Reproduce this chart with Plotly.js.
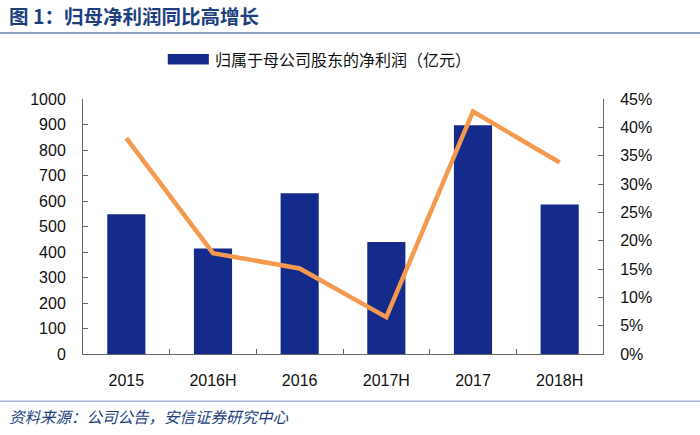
<!DOCTYPE html>
<html><head><meta charset="utf-8">
<script src="https://cdn.plot.ly/plotly-3.0.1.min.js"></script>
<style>html,body{margin:0;padding:0;background:#fff}#c{width:700px;height:435px}</style>
</head><body><div id="c"></div>
<script>
const categories = ['2015','2016H','2016','2017H','2017','2018H'];
const profit = [548, 414, 630, 439, 897, 586];
const growth = [0.381, 0.178, 0.151, 0.065, 0.428, 0.338];
const leftTicks = [0,100,200,300,400,500,600,700,800,900,1000];
const rightTicks = [0,0.05,0.10,0.15,0.20,0.25,0.30,0.35,0.40,0.45];
const seriesName = '归属于母公司股东的净利润（亿元）';
const titleText = '图 1：归母净利润同比高增长';
const sourceText = '资料来源：公司公告，安信证券研究中心';

const num = 'Liberation Sans, Arial, sans-serif';
const cjk = 'Noto Sans CJK SC, sans-serif';
const tf = {family:num, size:16, color:'#111'};

const traces = [
  {type:'bar', x:categories, y:profit, name:seriesName, marker:{color:'#142b8c'}, showlegend:false},
  {type:'scatter', mode:'lines', x:categories, y:growth, yaxis:'y2', line:{color:'#f5994f', width:4.5}, showlegend:false}
];

const layout = {
  width:700, height:435,
  margin:{l:83, r:97, t:99, b:81},
  paper_bgcolor:'#fff', plot_bgcolor:'#fff',
  bargap:0.56,
  showlegend:false,
  xaxis:{type:'category', tickson:'boundaries', ticks:'inside', ticklen:5, tickcolor:'#666',
    showline:true, linecolor:'#666', linewidth:1, showgrid:false, zeroline:false,
    ticklabelstandoff:12, tickfont:tf},
  yaxis:{range:[0,1000], tickvals:leftTicks, ticktext:leftTicks.map(String), ticks:'inside', ticklen:5, tickcolor:'#666',
    showline:true, linecolor:'#666', linewidth:1, showgrid:false, zeroline:false,
    ticklabelstandoff:13, tickfont:tf},
  yaxis2:{overlaying:'y', side:'right', range:[0,0.45], tickvals:rightTicks,
    ticktext:rightTicks.map(v=>Math.round(v*100)+'%'), ticks:'inside', ticklen:5, tickcolor:'#666',
    showline:true, linecolor:'#666', linewidth:1, showgrid:false, zeroline:false,
    ticklabelstandoff:13, tickfont:tf},
  shapes:[
    {type:'line', xref:'paper', yref:'paper', x0:-0.16, x1:1.19, y0:1.259, y1:1.259, line:{color:'#8ea3c6', width:2}},
    {type:'line', xref:'paper', yref:'paper', x0:-0.16, x1:1.19, y0:-0.185, y1:-0.185, line:{color:'#a9b8d6', width:1.5}},
    {type:'rect', xref:'paper', yref:'paper', x0:0.163, x1:0.242, y0:1.135, y1:1.176, fillcolor:'#142b8c', line:{width:0}}
  ],
  annotations:[
    {text:'<b>'+titleText+'</b>', xref:'paper', yref:'paper', x:-0.147, y:1.327, xanchor:'left', yanchor:'middle', showarrow:false,
      font:{family:cjk, size:19.5, color:'#1d3f7e'}},
    {text:seriesName, xref:'paper', yref:'paper', x:0.25, y:1.157, xanchor:'left', yanchor:'middle', showarrow:false,
      font:{family:cjk, size:16, color:'#111'}},
    {text:'<i>'+sourceText+'</i>', xref:'paper', yref:'paper', x:-0.147, y:-0.245, xanchor:'left', yanchor:'middle', showarrow:false,
      font:{family:cjk, size:15.5, color:'#1d3f7e'}}
  ]
};
Plotly.newPlot('c', traces, layout, {displayModeBar:false, staticPlot:true});
</script></body></html>
